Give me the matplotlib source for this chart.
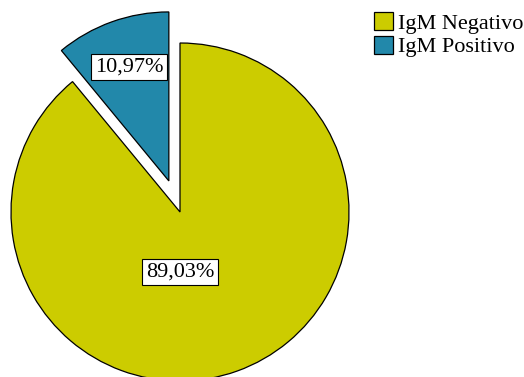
import matplotlib.pyplot as plt

# dados
categorias = ["IgM Negativo", "IgM Positivo"]
valores = [89.03, 10.97]
cores = ["#CCCC00", "#2288AA"]
explode = [0, 33]  # em pixels (unidades de dados)

plt.rcParams['font.family'] = ['Liberation Serif', 'DejaVu Serif']

fig = plt.figure(figsize=(5.24, 3.77), dpi=100)
ax = fig.add_axes([0, 0, 1, 1])

centro = (180, 165)
raio = 169
wedges, _ = ax.pie(valores, colors=cores, explode=explode, startangle=90,
                   counterclock=False, radius=raio, center=centro, frame=True,
                   wedgeprops=dict(edgecolor='black', linewidth=0.9))
ax.set_xlim(0, 524)
ax.set_ylim(0, 377)
ax.set_aspect('equal')
ax.axis('off')

# rótulos
caixa = dict(boxstyle='square,pad=0.15', fc='white', ec='black', lw=0.8)
pos_rotulos = [(180, 105), (129, 310)]
for v, (x, y) in zip(valores, pos_rotulos):
    ax.text(x, y, "{0:.2f}%".format(v).replace('.', ','), ha='center', va='center',
            fontsize=16, bbox=caixa)

# legenda
leg = ax.legend(wedges, categorias, loc='upper left',
                bbox_to_anchor=(374 / 524, 1 - 12 / 377), frameon=False,
                fontsize=16, handlelength=0.85, handleheight=0.85,
                handletextpad=0.25, labelspacing=0.1, borderpad=0, borderaxespad=0)

fig.savefig("out.png", dpi=100)
